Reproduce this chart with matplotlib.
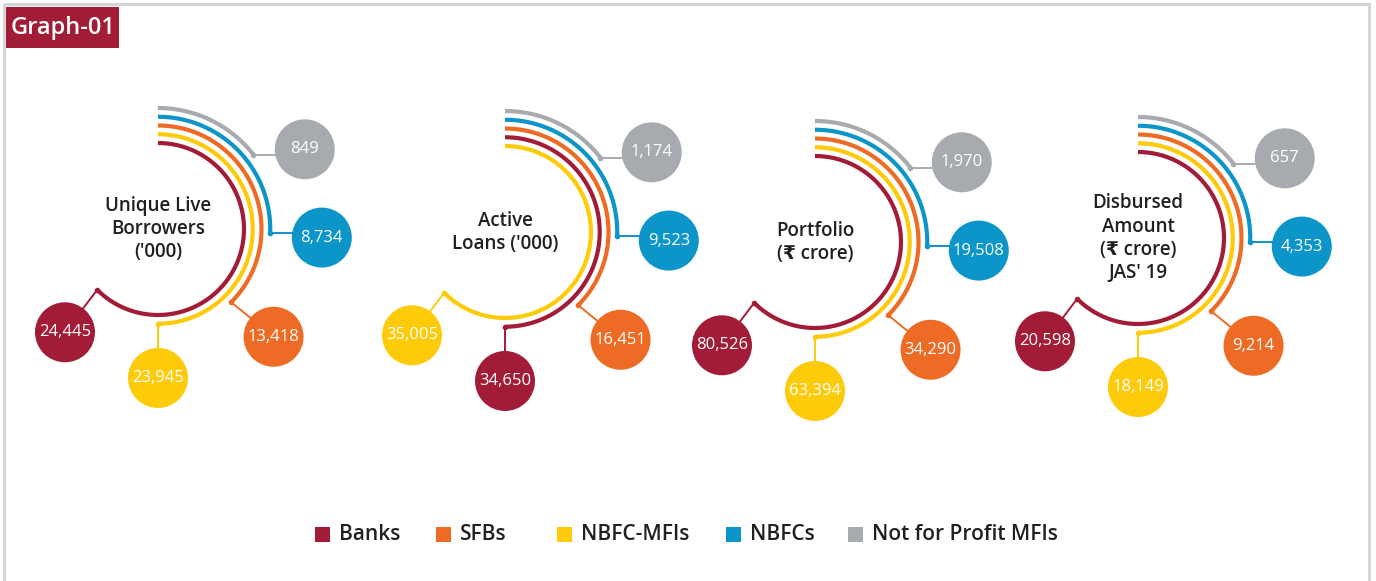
import numpy as np
import matplotlib
matplotlib.use("Agg")
import matplotlib.pyplot as plt
from matplotlib.patches import Circle, Rectangle

plt.rcParams['font.family'] = ['Open Sans', 'DejaVu Sans']

# --- data ---
groups = ["Unique Live\nBorrowers\n('000)", "Active\nLoans ('000)",
          "Portfolio\n(₹ crore)", "Disbursed\nAmount\n(₹ crore)\nJAS' 19"]
series = ["Banks", "SFBs", "NBFC-MFIs", "NBFCs", "Not for Profit MFIs"]
banks = [24445, 34650, 80526, 20598]
sfbs = [13418, 16451, 34290, 9214]
nbfc_mfis = [23945, 35005, 63394, 18149]
nbfcs = [8734, 9523, 19508, 4353]
not_for_profit = [849, 1174, 1970, 657]
values = [banks, sfbs, nbfc_mfis, nbfcs, not_for_profit]
colors = ["#A21C38", "#EE6B26", "#FECB0B", "#0B95C9", "#A7ABAF"]

# --- layout (pixels) ---
centers = [(158, 229), (505, 232), (815, 242), (1138, 238)]
radii = [86, 94.75, 103.5, 112.25, 121]          # by rank, largest value innermost
sweeps = [225, 180, 135, 92, 52]                 # arc length by rank
bubble_pos = [(139, -132), (149, -90), (158, -43), (164, -3), (167, 28.5)]
bubble_r = 30

fig = plt.figure(figsize=(13.76, 5.81), dpi=100)
ax = fig.add_axes([0, 0, 1, 1])
ax.set_xlim(0, 1376)
ax.set_ylim(581, 0)
ax.axis('off')

# frame + title tag
ax.add_patch(Rectangle((4, 4), 1365, 600, fill=False, ec="#d6d6d6", lw=2.2, zorder=0))
ax.add_patch(Rectangle((6, 7), 113, 41, fc="#A21C38", ec="none", zorder=1))
ax.text(11, 28, "Graph-01", color="white", fontsize=17, fontweight="semibold",
        va="center", ha="left", zorder=2)

for g, (cx, cy) in enumerate(centers):
    vals = [v[g] for v in values]
    order = np.argsort(vals)[::-1]
    for rank, s in enumerate(order):
        r = radii[rank]
        th = np.radians(np.linspace(90, 90 - sweeps[rank], 200))
        ax.plot(cx + r * np.cos(th), cy - r * np.sin(th), color=colors[s],
                lw=3.0, solid_capstyle="butt", zorder=3)
        ex, ey = cx + r * np.cos(th[-1]), cy - r * np.sin(th[-1])
        ax.plot(ex, ey, "o", ms=3.0, color=colors[s], zorder=3)
        d, a = bubble_pos[rank]
        bx, by = cx + d * np.cos(np.radians(a)), cy - d * np.sin(np.radians(a))
        if rank >= 3:
            ax.plot([ex, bx], [ey, ey], color=colors[s], lw=1.4, zorder=2)
        else:
            ax.plot([ex, bx], [ey, by], color=colors[s], lw=1.4, zorder=2)
        ax.add_patch(Circle((bx, by), bubble_r, fc=colors[s], ec="none", zorder=4))
        ax.text(bx, by, f"{vals[s]:,}", color="white", fontsize=12,
                fontweight="normal", ha="center", va="center", zorder=5)
    ax.text(cx, cy, groups[g], color="#231f20", fontsize=13.5, fontweight="semibold",
            ha="center", va="center", linespacing=1.2, zorder=5)

# legend
leg_x = [315, 436, 557, 726, 848]
for x, name, c in zip(leg_x, series, colors):
    ax.add_patch(Rectangle((x, 527), 15, 15, fc=c, ec="none"))
    ax.text(x + 24, 535, name, color="#231f20", fontsize=15, fontweight="semibold",
            ha="left", va="center")

fig.savefig("out.png", dpi=100)
